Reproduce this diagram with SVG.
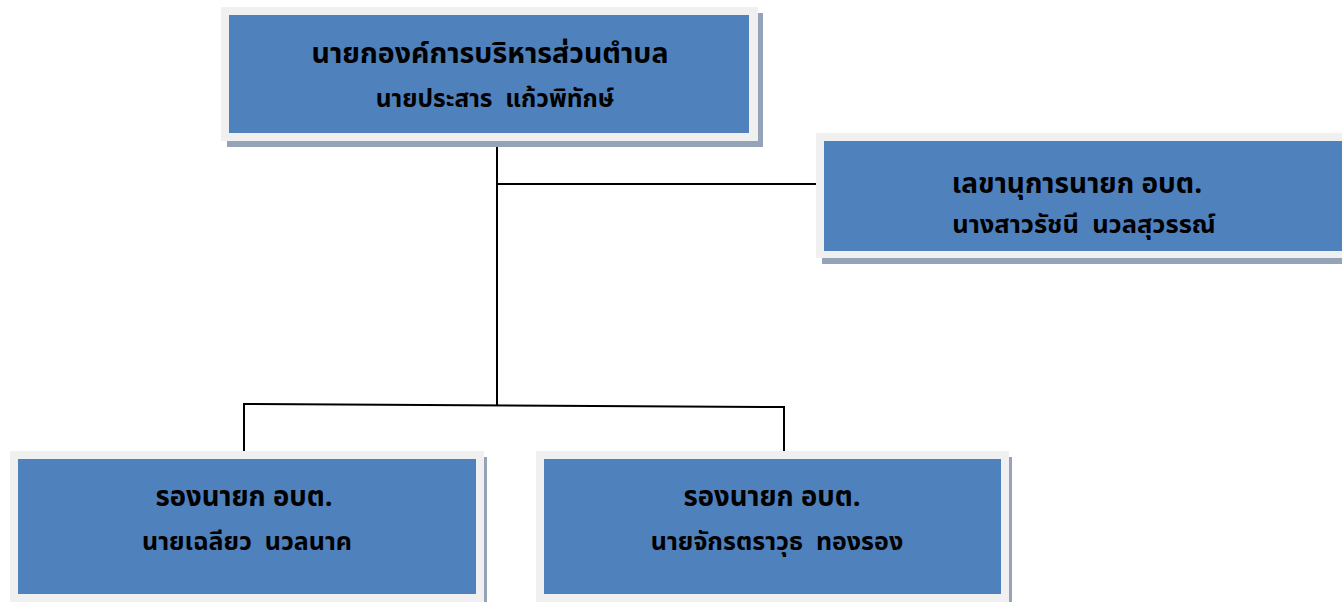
<svg xmlns="http://www.w3.org/2000/svg" width="1342" height="602" viewBox="0 0 1342 602" xml:space="preserve">
<style>
.sh{fill:#95A3B8}
.fr{fill:#F0F0F0}
.bl{fill:#4F81BD}
.t{font-family:"Noto Sans Thai","Noto Sans","Liberation Sans",sans-serif;font-weight:bold;fill:#000;text-anchor:middle;white-space:pre}
.l{stroke:#000;stroke-width:2;fill:none}
</style>
<rect width="1342" height="602" fill="#fff"/>
<g id="connectors">
<line class="l" x1="497" y1="141" x2="497" y2="405"/>
<line class="l" x1="497" y1="184" x2="816" y2="184"/>
<line class="l" x1="244" y1="404" x2="784" y2="407"/>
<line class="l" x1="244" y1="403" x2="244" y2="451"/>
<line class="l" x1="784" y1="406" x2="784" y2="452"/>
</g>
<g id="node-chief">
<rect class="sh" x="227" y="13" width="536" height="134"/>
<rect class="fr" x="221" y="7" width="537" height="134"/>
<rect class="bl" x="229" y="15" width="520" height="118"/>
<text class="t" x="490" y="63" font-size="28.5">นายกองค์การบริหารส่วนตำบล</text>
<text class="t" x="495" y="107" font-size="24.5">นายประสาร  แก้วพิทักษ์</text>
</g>
<g id="node-secretary">
<rect class="sh" x="822" y="139" width="530" height="125"/>
<rect class="fr" x="816" y="133" width="530" height="125"/>
<rect class="bl" x="824" y="141" width="530" height="110"/>
<text class="t" x="1077" y="193" font-size="28">เลขานุการนายก อบต.</text>
<text class="t" x="1084" y="233" font-size="25.5">นางสาวรัชนี  นวลสุวรรณ์</text>
</g>
<g id="node-deputy1">
<rect class="sh" x="16" y="457" width="471" height="151"/>
<rect class="fr" x="10" y="451" width="474" height="151"/>
<rect class="bl" x="18" y="459" width="458" height="135"/>
<text class="t" x="244" y="506" font-size="27.5">รองนายก อบต.</text>
<text class="t" x="247" y="550" font-size="25">นายเฉลียว  นวลนาค</text>
</g>
<g id="node-deputy2">
<rect class="sh" x="542" y="457" width="470" height="151"/>
<rect class="fr" x="536" y="451" width="473" height="151"/>
<rect class="bl" x="544" y="459" width="457" height="135"/>
<text class="t" x="772" y="506" font-size="27.5">รองนายก อบต.</text>
<text class="t" x="777" y="550" font-size="25">นายจักรตราวุธ  ทองรอง</text>
</g>
</svg>
